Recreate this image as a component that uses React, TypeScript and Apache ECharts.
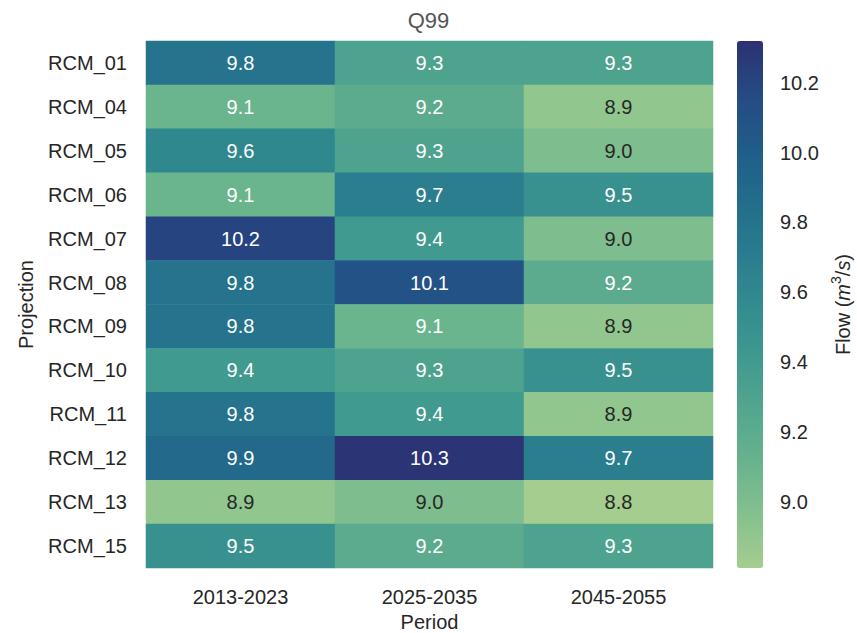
import React, { useEffect, useRef } from "react";
import * as echarts from "echarts";

const projections = [
  "RCM_01", "RCM_04", "RCM_05", "RCM_06", "RCM_07", "RCM_08",
  "RCM_09", "RCM_10", "RCM_11", "RCM_12", "RCM_13", "RCM_15",
];
const periods = ["2013-2023", "2025-2035", "2045-2055"];

// values per projection row: [2013-2023, 2025-2035, 2045-2055]
const p2013 = [9.8, 9.1, 9.6, 9.1, 10.2, 9.8, 9.8, 9.4, 9.8, 9.9, 8.9, 9.5];
const p2025 = [9.3, 9.2, 9.3, 9.7, 9.4, 10.1, 9.1, 9.3, 9.4, 10.3, 9.0, 9.2];
const p2045 = [9.3, 8.9, 9.0, 9.5, 9.0, 9.2, 8.9, 9.5, 8.9, 9.7, 8.8, 9.3];

const colorbarTicks = [9.0, 9.2, 9.4, 9.6, 9.8, 10.0, 10.2];
const vMin = 8.81;
const vMax = 10.32;

const crest = [
  "#a5cd90", "#85c18e", "#68b38e", "#53a68f", "#3f998f", "#328b8f",
  "#297c8e", "#226c8b", "#205c89", "#254a83", "#2c3172",
];

const FONT = "'Liberation Sans', Arial, Helvetica, sans-serif";
const FS = 20;
const TXT = "#262626";

export default function App() {
  const ref = useRef<HTMLDivElement>(null);

  useEffect(() => {
    if (!ref.current) return;
    const chart = echarts.init(ref.current, undefined, { renderer: "svg" });
    const cols = [p2013, p2025, p2045];
    const data: any[] = [];
    cols.forEach((col, xi) => {
      col.forEach((v, yi) => {
        data.push({
          value: [xi, yi, v],
          label: { color: v >= 9.05 ? "#ffffff" : TXT },
        });
      });
    });

    chart.setOption({
      animation: false,
      backgroundColor: "#ffffff",
      textStyle: { fontFamily: FONT },
      title: {
        text: "Q99",
        left: "center",
        top: 0,
        padding: [9, 38, 9, 38],
        backgroundColor: "#ffffff",
        textStyle: { fontFamily: FONT, fontSize: 22, fontWeight: "normal", color: "#555555" },
        z: 10,
      },
      grid: [
        { left: 146, top: 41, width: 567, height: 527, containLabel: false, outerBoundsMode: "none" },
        { left: 737, top: 41, width: 26, height: 527, containLabel: false, outerBoundsMode: "none" },
      ],
      xAxis: [
        {
          type: "category",
          gridIndex: 0,
          data: periods,
          axisLine: { show: false },
          axisTick: { show: false },
          splitLine: { show: false },
          axisLabel: { fontFamily: FONT, fontSize: FS, color: TXT, margin: 19 },
          name: "Period",
          nameLocation: "middle",
          nameGap: 42,
          nameTextStyle: { fontFamily: FONT, fontSize: FS, color: TXT },
        },
        {
          type: "value",
          gridIndex: 1,
          show: false,
          min: 0,
          max: 1,
        },
      ],
      yAxis: [
        {
          type: "category",
          gridIndex: 0,
          data: projections,
          inverse: true,
          axisLine: { show: false },
          axisTick: { show: false },
          splitLine: { show: false },
          axisLabel: { fontFamily: FONT, fontSize: FS, color: TXT, margin: 19 },
          name: "Projection",
          nameLocation: "middle",
          nameGap: 110,
          nameTextStyle: { fontFamily: FONT, fontSize: FS, color: TXT },
        },
        {
          type: "value",
          gridIndex: 1,
          position: "right",
          min: vMin,
          max: vMax,
          axisLine: { show: false },
          splitLine: { show: false },
          axisTick: {
            show: true,
            inside: false,
            length: 7,
            lineStyle: { color: TXT, width: 1.2 },
            customValues: colorbarTicks,
          },
          axisLabel: {
            fontFamily: FONT,
            fontSize: FS,
            color: TXT,
            margin: 17,
            customValues: colorbarTicks,
            formatter: (v: number) => v.toFixed(1),
          },
          name: "{n|Flow (}{i|m}{s|3}{n|/}{i|s}{n|)}",
          nameLocation: "middle",
          nameGap: 66,
          nameRotate: 90,
          nameTextStyle: {
            fontFamily: FONT,
            fontSize: FS,
            color: TXT,
            rich: {
              n: { fontFamily: FONT, fontSize: FS, color: TXT, lineHeight: 24, verticalAlign: "bottom" },
              i: { fontFamily: FONT, fontSize: FS, fontStyle: "italic", color: TXT, lineHeight: 24, verticalAlign: "bottom" },
              s: { fontFamily: FONT, fontSize: 14, color: TXT, lineHeight: 24, verticalAlign: "top" },
            },
          },
        },
      ],
      visualMap: {
        type: "continuous",
        seriesIndex: 0,
        min: vMin,
        max: vMax,
        calculable: false,
        hoverLink: false,
        left: 737,
        top: 41,
        itemWidth: 26,
        itemHeight: 527,
        padding: 0,
        text: null,
        showLabel: false,
        inRange: { color: crest },
      },
      series: [
        {
          type: "heatmap",
          xAxisIndex: 0,
          yAxisIndex: 0,
          data,
          itemStyle: { borderWidth: 0 },
          label: {
            show: true,
            fontFamily: FONT,
            fontSize: FS,
            formatter: (p: any) => Number(p.value[2]).toFixed(1),
          },
          emphasis: { disabled: true },
        },
        {
          type: "line",
          xAxisIndex: 1,
          yAxisIndex: 1,
          data: [],
          silent: true,
        },
      ],
    });
    return () => chart.dispose();
  }, []);

  return (
    <div
      ref={ref}
      style={{ position: "absolute", left: 0, top: 0, width: 857, height: 633 }}
    />
  );
}
